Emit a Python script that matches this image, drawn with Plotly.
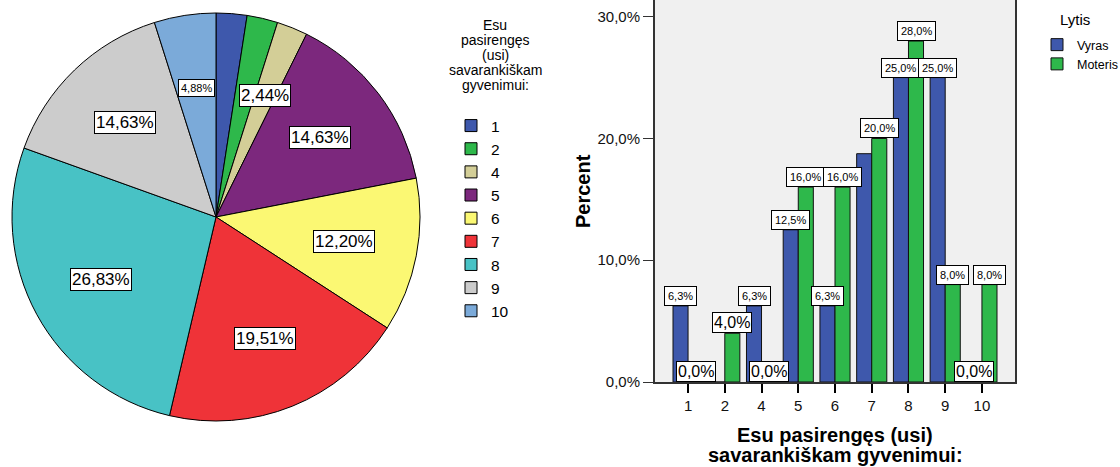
import math
from decimal import Decimal, ROUND_HALF_UP
import plotly.graph_objects as go

# ---------------- data ----------------
pie_categories = ["1", "2", "4", "5", "6", "7", "8", "9", "10"]
pie_percent = [2.44, 2.44, 2.44, 14.63, 12.20, 19.51, 26.83, 14.63, 4.88]
pie_label_shown = [False, False, True, True, True, True, True, True, True]
pie_legend_title = ["Esu", "pasirengęs", "(usi)", "savarankiškam", "gyvenimui:"]

bar_categories = ["1", "2", "4", "5", "6", "7", "8", "9", "10"]
vyras_percent = [6.25, 0.0, 6.25, 12.5, 6.25, 18.75, 25.0, 25.0, 0.0]
moteris_percent = [0.0, 4.0, 0.0, 16.0, 16.0, 20.0, 28.0, 8.0, 8.0]
vyras_label_shown = [True, False, True, True, True, False, True, True, True]
moteris_label_shown = [True, True, True, True, True, True, True, True, True]
bar_legend_title = "Lytis"

y_tickvals = [0, 10, 20, 30]
y_ticktext = ["0,0%", "10,0%", "20,0%", "30,0%"]


def fmt(v, nd):
    q = Decimal(1).scaleb(-nd)
    return str(Decimal(str(v)).quantize(q, rounding=ROUND_HALF_UP)).replace(".", ",") + "%"


# ---------------- style ----------------
W, H = 1120, 467
FONT = "Liberation Sans, Arial, sans-serif"
pie_colors = ["#3E58AC", "#2EB84B", "#D3CE97", "#7C287D", "#FBF873",
              "#EF3338", "#48C2C5", "#CCCCCC", "#7BAAD9"]
blue, green = "#3E58AC", "#2EB84B"

# pie geometry in pixels
pie_cx, pie_cy, pie_r = 216, 217, 204
pie_dom_x = [(pie_cx - pie_r) / W, (pie_cx + pie_r) / W]
pie_dom_y = [1 - (pie_cy + pie_r) / H, 1 - (pie_cy - pie_r) / H]

# bar plot area in pixels
bx0, bx1 = 655, 1015
by0 = 382  # zero line
bar_dom_x = [bx0 / W, bx1 / W]
bar_dom_y = [1 - by0 / H, 1.0]
px_per_unit = (382 - 16.7) / 30.0
y_top = 30 + 16.7 / px_per_unit

bargap = 0.18

fig = go.Figure()

fig.add_trace(go.Pie(
    labels=pie_categories, values=pie_percent, sort=False,
    direction="clockwise", rotation=0,
    marker=dict(colors=pie_colors, line=dict(color="#000000", width=1)),
    textinfo="none", hoverinfo="label+percent",
    domain=dict(x=pie_dom_x, y=pie_dom_y),
    legend="legend", showlegend=True,
))

fig.add_trace(go.Bar(
    x=list(range(len(bar_categories))), y=vyras_percent, name="Vyras",
    marker=dict(color=blue, line=dict(color="#111111", width=1)),
    xaxis="x", yaxis="y", legend="legend2",
))
fig.add_trace(go.Bar(
    x=list(range(len(bar_categories))), y=moteris_percent, name="Moteris",
    marker=dict(color=green, line=dict(color="#111111", width=1)),
    xaxis="x", yaxis="y", legend="legend2",
))

annotations = []

# pie labels, positioned from the slice mid-angles
total = sum(pie_percent)
cum = 0.0
for cat, v, show in zip(pie_categories, pie_percent, pie_label_shown):
    mid = (cum + v / 2) / total * 2 * math.pi
    cum += v
    if not show:
        continue
    rr = 0.64 * pie_r
    px = pie_cx + rr * math.sin(mid)
    py = pie_cy - rr * math.cos(mid)
    small = 4.5 < v < 5
    annotations.append(dict(
        x=px / W, y=1 - py / H, xref="paper", yref="paper",
        text=fmt(v, 2), showarrow=False,
        font=dict(family=FONT, size=11 if small else 17, color="#000000"),
        bgcolor="#FFFFFF", bordercolor="#000000", borderwidth=1,
        borderpad=2 if small else 1,
        xanchor="center", yanchor="middle",
    ))

# bar labels
half = (1 - bargap) / 4
for vals, shows, off in ((vyras_percent, vyras_label_shown, -half),
                         (moteris_percent, moteris_label_shown, half)):
    for i, (v, show) in enumerate(zip(vals, shows)):
        if not show:
            continue
        big = v < 5
        annotations.append(dict(
            x=i + off, y=v, xref="x", yref="y",
            text=fmt(v, 1), showarrow=False,
            font=dict(family=FONT, size=16 if big else 11, color="#000000"),
            bgcolor="#FFFFFF", bordercolor="#000000", borderwidth=1,
            borderpad=1 if big else 3,
            xanchor="center", yanchor="bottom",
        ))

# pie legend title (centred lines)
for k, line in enumerate(pie_legend_title):
    annotations.append(dict(
        x=495 / W, y=1 - (25 + 15 * k) / H, xref="paper", yref="paper",
        text=line, showarrow=False, font=dict(family=FONT, size=14, color="#000000"),
        xanchor="center", yanchor="middle"))
# bar legend title
annotations.append(dict(
    x=1075 / W, y=1 - 20 / H, xref="paper", yref="paper", text=bar_legend_title,
    showarrow=False, font=dict(family=FONT, size=15, color="#000000"),
    xanchor="center", yanchor="middle"))

# axis titles
annotations.append(dict(
    x=583 / W, y=1 - 191 / H, xref="paper", yref="paper", text="<b>Percent</b>",
    textangle=-90, showarrow=False, font=dict(family=FONT, size=20, color="#000000"),
    xanchor="center", yanchor="middle"))
annotations.append(dict(
    x=(bx0 + bx1) / 2 / W, y=1 - 435 / H, xref="paper", yref="paper",
    text="<b>Esu pasirengęs (usi)</b>", showarrow=False,
    font=dict(family=FONT, size=20, color="#000000"), xanchor="center", yanchor="middle"))
annotations.append(dict(
    x=(bx0 + bx1) / 2 / W, y=1 - 455 / H, xref="paper", yref="paper",
    text="<b>savarankiškam gyvenimui:</b>", showarrow=False,
    font=dict(family=FONT, size=20, color="#000000"), xanchor="center", yanchor="middle"))

fig.update_layout(
    width=W, height=H, margin=dict(l=0, r=0, t=0, b=0, autoexpand=False),
    paper_bgcolor="#FFFFFF", plot_bgcolor="#F0F0F0",
    font=dict(family=FONT, color="#000000"),
    barmode="group", bargap=bargap, bargroupgap=0,
    xaxis=dict(domain=bar_dom_x, range=[-0.9, len(bar_categories) - 0.1],
               tickmode="array", tickvals=list(range(len(bar_categories))),
               ticktext=bar_categories, ticks="outside", ticklen=9, tickwidth=2,
               tickcolor="#000000", showline=True, linecolor="#333333", linewidth=2,
               showgrid=False, zeroline=False, tickfont=dict(size=15, color="#111111"),
               anchor="y", fixedrange=True),
    yaxis=dict(domain=bar_dom_y, range=[0, y_top], tickmode="array",
               tickvals=y_tickvals, ticktext=y_ticktext, ticks="outside", ticklen=10,
               tickcolor="#333333", showline=True, mirror=True, linecolor="#333333",
               linewidth=2, showgrid=False, zeroline=False,
               tickfont=dict(size=15, color="#111111"), anchor="x", fixedrange=True),
    legend=dict(
        x=451 / W, y=1 - 109 / H, xanchor="left", yanchor="top",
        font=dict(size=15.5, family=FONT), bgcolor="rgba(0,0,0,0)",
        itemclick=False, itemdoubleclick=False,
    ),
    legend2=dict(
        x=1037 / W, y=1 - 30 / H, xanchor="left", yanchor="top",
        font=dict(size=12.5, family=FONT), bgcolor="rgba(0,0,0,0)",
        itemclick=False, itemdoubleclick=False,
    ),
    annotations=annotations,
)

fig.write_html(
    "out.html",
    config={"displayModeBar": False},
    post_script="document.body.style.margin='0';document.body.style.overflow='hidden';",
)
